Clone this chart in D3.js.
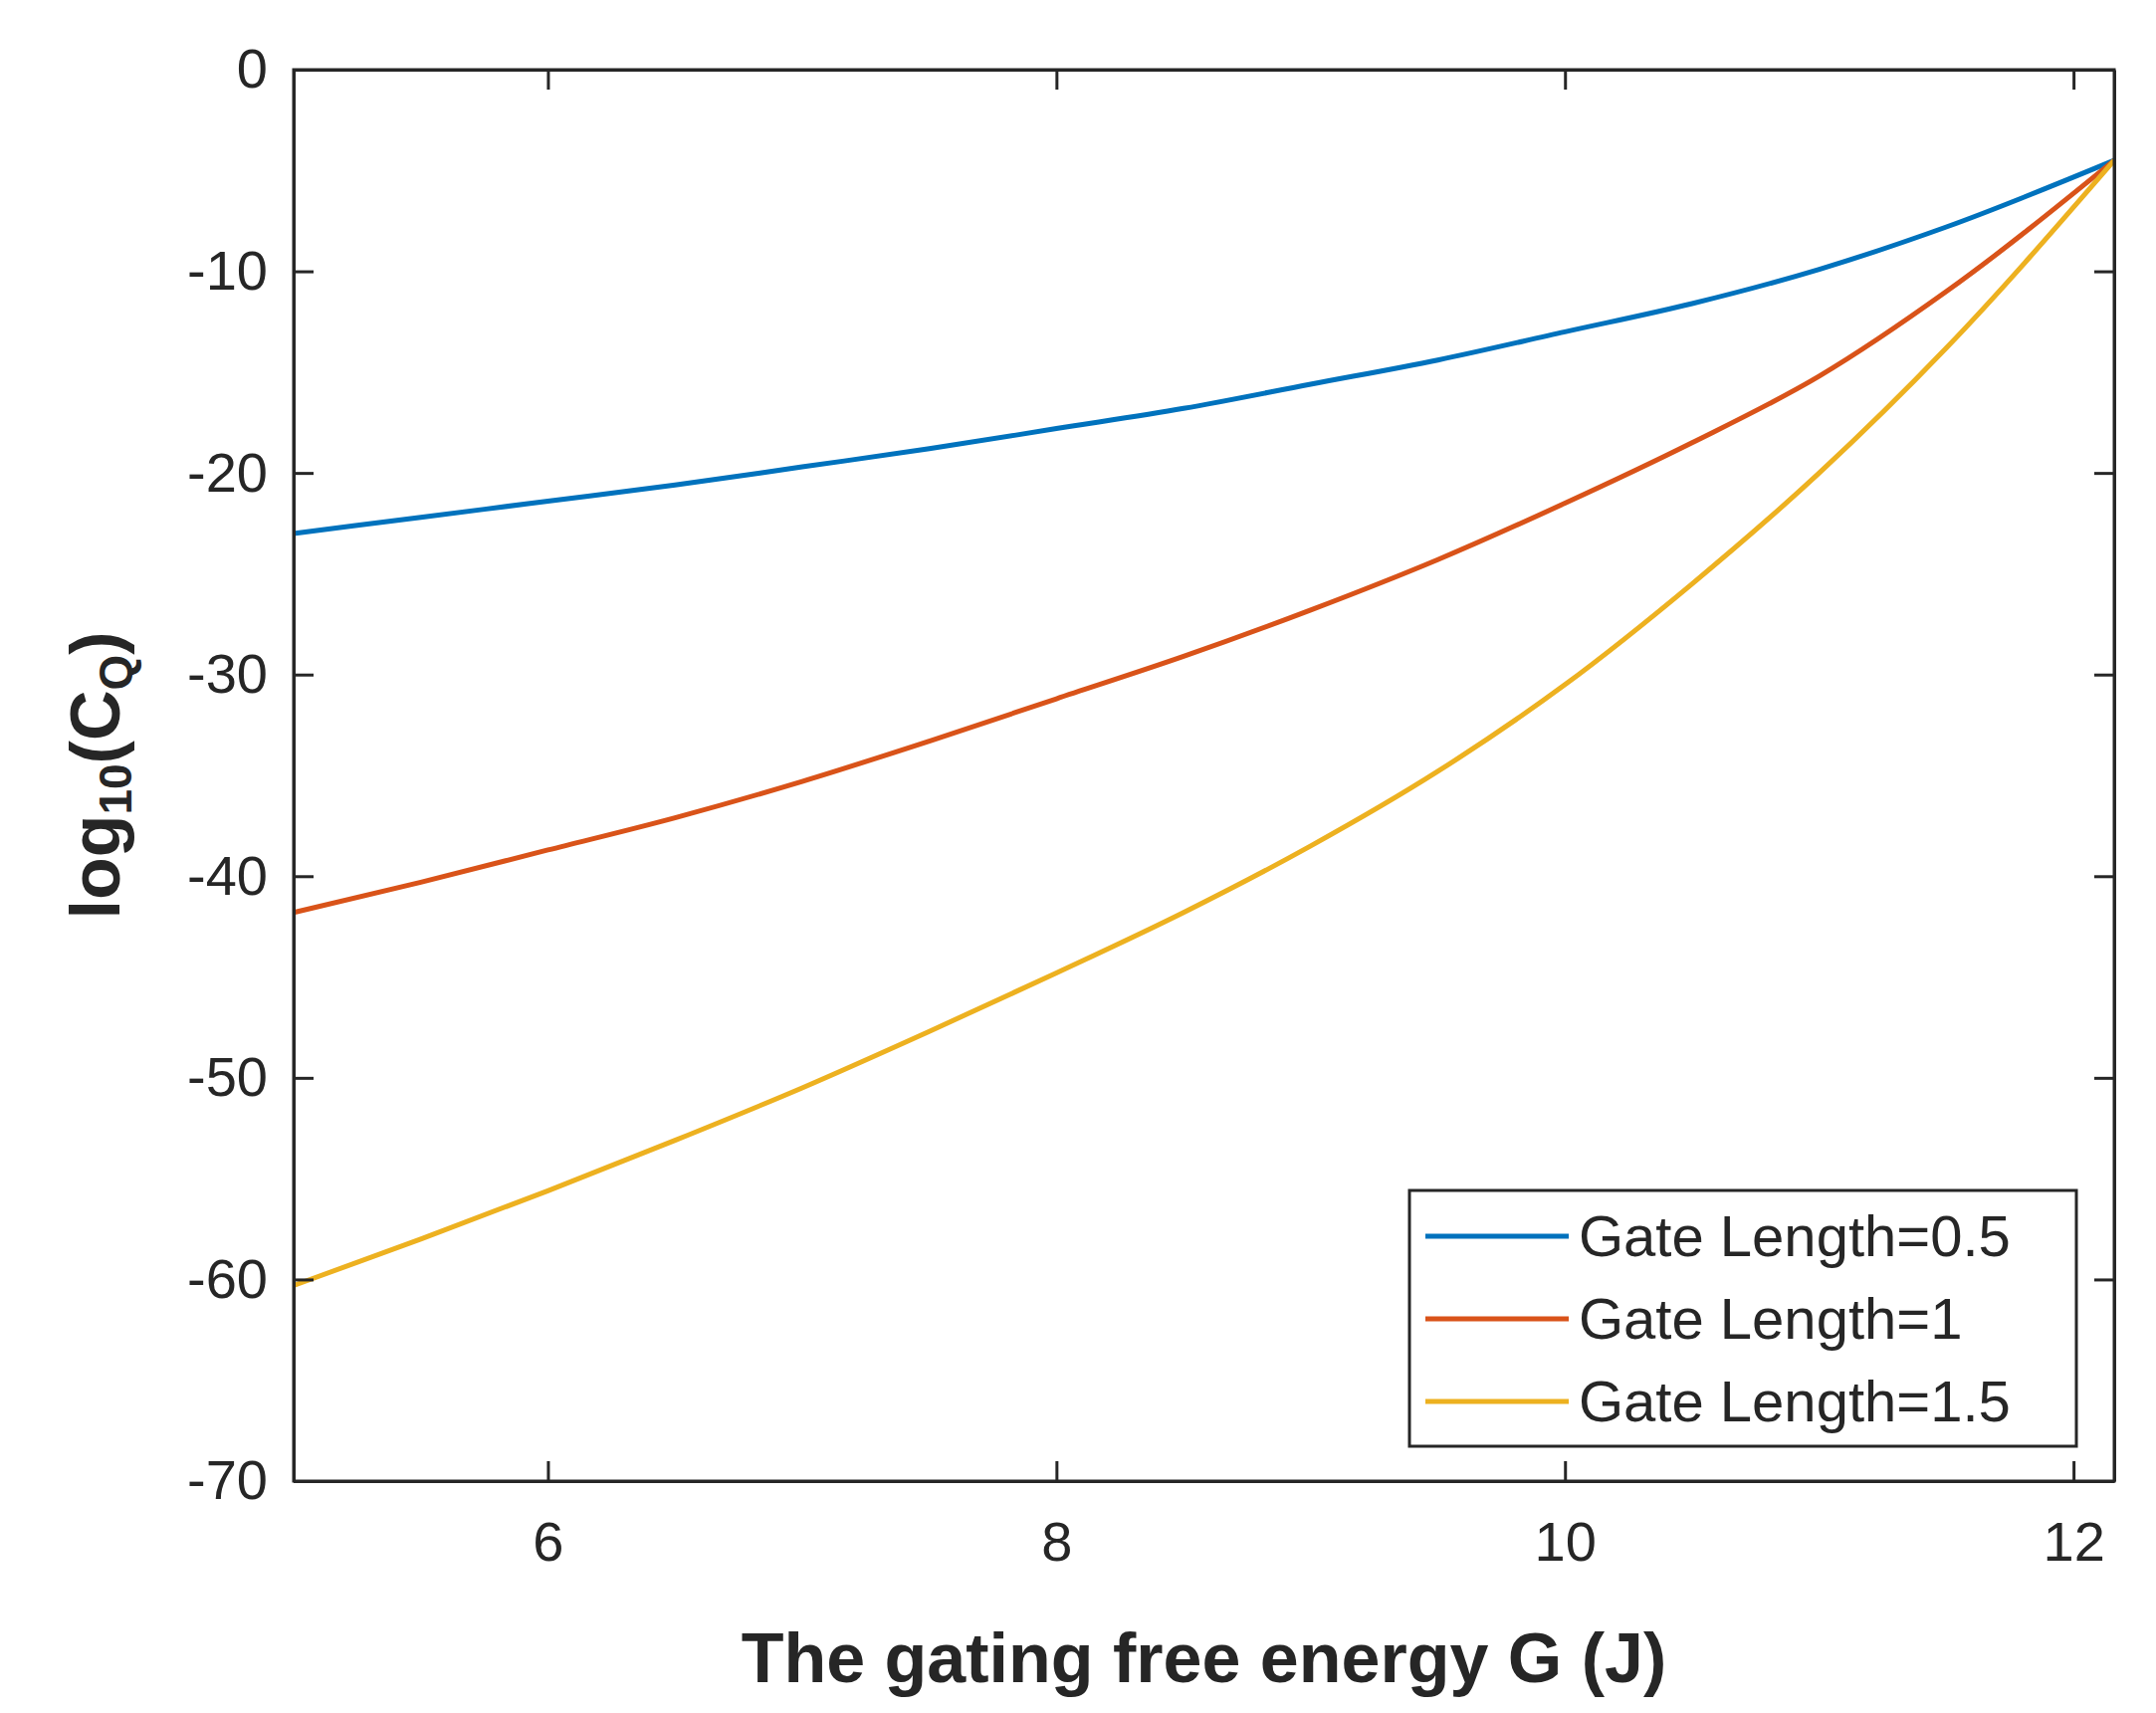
<!DOCTYPE html>
<html><head><meta charset="utf-8">
<script src="https://cdn.jsdelivr.net/npm/d3@7"></script>
<style>body{margin:0;background:#fff}</style></head>
<body><svg id="c" width="2166" height="1721"></svg>
<script>
const xVals = [5, 5.5, 6, 6.5, 7, 7.5, 8, 8.5, 9, 9.5, 10, 10.5, 11, 11.5, 12.16];
const gl05 = [-23, -22.2, -21.4, -20.6, -19.7, -18.8, -17.8, -16.8, -15.6, -14.4, -13, -11.6, -9.9, -7.8, -4.5];
const gl1  = [-41.8, -40.3, -38.7, -37.1, -35.3, -33.3, -31.2, -29.1, -26.8, -24.3, -21.5, -18.5, -15.2, -11.0, -4.5];
const gl15 = [-60.3, -58.0, -55.6, -53.1, -50.5, -47.7, -44.8, -41.8, -38.5, -34.8, -30.5, -25.5, -20.0, -13.8, -4.5];
const seriesNames = ["Gate Length=0.5", "Gate Length=1", "Gate Length=1.5"];
const colors = ["#0072BD", "#D95319", "#EDB120"];
const xTicks = [6, 8, 10, 12];
const yTicks = [0, -10, -20, -30, -40, -50, -60, -70];

const svg = d3.select("#c");
const L = 295, R = 2124, T = 70, B = 1488;
const x = d3.scaleLinear().domain([5, 12.16]).range([L, R]);
const y = d3.scaleLinear().domain([-70, 0]).range([B, T]);
const axCol = "#262626", font = "Liberation Sans, Arial, sans-serif";

const series = [gl05, gl1, gl15];
const line = d3.line().x((d, i) => x(xVals[i])).y(d => y(d)).curve(d3.curveMonotoneX);
series.forEach((s, k) => {
  svg.append("path").datum(s).attr("d", line).attr("fill", "none")
    .attr("stroke", colors[k]).attr("stroke-width", 5);
});

function styleAx(g) {
  g.selectAll("path,line").attr("stroke", axCol).attr("stroke-width", 3);
  g.selectAll("text").attr("font-family", font).attr("font-size", 56).attr("fill", axCol);
}
const tl = 20;
svg.append("g").attr("transform", `translate(0,${B})`)
  .call(d3.axisBottom(x).tickValues(xTicks).tickSize(-tl).tickPadding(40).tickSizeOuter(0)).call(styleAx);
svg.append("g").attr("transform", `translate(0,${T})`)
  .call(d3.axisTop(x).tickValues(xTicks).tickSize(-tl).tickFormat("").tickSizeOuter(0)).call(styleAx);
svg.append("g").attr("transform", `translate(${L},0)`)
  .call(d3.axisLeft(y).tickValues(yTicks).tickSize(-tl).tickPadding(26).tickSizeOuter(0)
  .tickFormat(d => d)).call(styleAx);
svg.append("g").attr("transform", `translate(${R},0)`)
  .call(d3.axisRight(y).tickValues(yTicks).tickSize(-tl).tickFormat("").tickSizeOuter(0)).call(styleAx);
svg.append("rect").attr("x", L).attr("y", T).attr("width", R - L).attr("height", B - T)
  .attr("fill", "none").attr("stroke", axCol).attr("stroke-width", 3);

svg.append("text").attr("x", (L + R) / 2).attr("y", 1690).attr("text-anchor", "middle")
  .attr("font-family", font).attr("font-weight", "bold").attr("font-size", 70).attr("fill", axCol)
  .text("The gating free energy G (J)");
const yl = svg.append("text").attr("transform", `translate(120,${(T + B) / 2}) rotate(-90)`)
  .attr("text-anchor", "middle").attr("font-family", font).attr("font-weight", "bold")
  .attr("font-size", 70).attr("fill", axCol);
yl.append("tspan").text("log");
yl.append("tspan").attr("font-size", 46).attr("dy", 12).text("10");
yl.append("tspan").attr("dy", -12).text("(C");
yl.append("tspan").attr("font-size", 46).attr("dy", 12).text("Q");
yl.append("tspan").attr("dy", -12).text(")");

const lx = 1416, ly = 1196, lw = 670, lh = 257;
svg.append("rect").attr("x", lx).attr("y", ly).attr("width", lw).attr("height", lh)
  .attr("fill", "#fff").attr("stroke", axCol).attr("stroke-width", 3);
seriesNames.forEach((n, k) => {
  const cy = ly + 46 + k * 83;
  svg.append("line").attr("x1", lx + 16).attr("x2", lx + 160).attr("y1", cy).attr("y2", cy)
    .attr("stroke", colors[k]).attr("stroke-width", 5);
  svg.append("text").attr("x", lx + 170).attr("y", cy + 20).attr("font-family", font)
    .attr("font-size", 58).attr("fill", axCol).text(n);
});
</script></body></html>
